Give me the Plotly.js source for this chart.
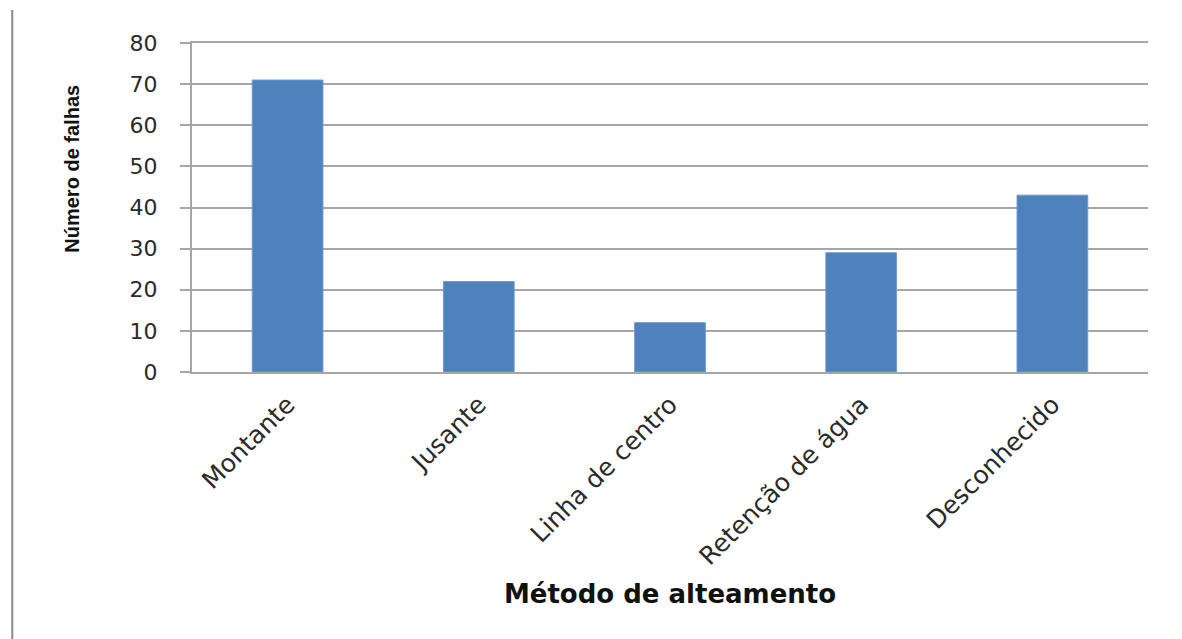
<!DOCTYPE html>
<html>
<head>
<meta charset="utf-8">
<script src="https://cdn.plot.ly/plotly-3.0.1.min.js"></script>
<style>
  html, body { margin: 0; padding: 0; background: #ffffff; }
  #chart { width: 1182px; height: 639px; }
</style>
</head>
<body>
<div id="chart"></div>
<script>
const categories = ["Montante", "Jusante", "Linha de centro", "Retenção de água", "Desconhecido"];
const failures = [71, 22, 12, 29, 43];
const yTickValues = [0, 10, 20, 30, 40, 50, 60, 70, 80];
const xTitle = "Método de alteamento";
const yTitle = "Número de falhas";

const trace = {
  type: "bar",
  x: categories,
  y: failures,
  marker: { color: "#4f81bd", line: { color: "#6f9bd1", width: 1 } },
  hoverinfo: "x+y"
};

const gridColor = "#a6a6a6";

const layout = {
  width: 1182,
  height: 639,
  margin: { l: 192, r: 34, t: 43, b: 267 },
  paper_bgcolor: "#ffffff",
  plot_bgcolor: "#ffffff",
  showlegend: false,
  bargap: 0.63,
  font: { family: "DejaVu Sans, sans-serif", color: "#222222" },
  xaxis: {
    type: "category",
    tickangle: -45,
    tickfont: { family: "DejaVu Sans, sans-serif", size: 25, color: "#2a2a2a" },
    showline: true,
    mirror: true,
    linecolor: gridColor,
    linewidth: 2,
    ticks: "",
    ticklabelstandoff: 6,
    showgrid: false,
    automargin: true,
    title: {
      text: xTitle,
      font: { family: "DejaVu Sans, sans-serif", size: 26, color: "#111111", weight: "bold" },
      standoff: 15
    }
  },
  yaxis: {
    range: [0, 80],
    tickvals: yTickValues,
    ticktext: yTickValues.map(String),
    tickfont: { family: "DejaVu Sans, sans-serif", size: 22, color: "#2a2a2a" },
    ticks: "outside",
    ticklen: 10,
    tickwidth: 2,
    tickcolor: gridColor,
    ticklabelstandoff: 18,
    showline: true,
    linecolor: gridColor,
    linewidth: 2,
    showgrid: true,
    gridcolor: gridColor,
    gridwidth: 2,
    zeroline: false,
    fixedrange: true
  },
  annotations: [
    {
      text: yTitle,
      xref: "paper", yref: "paper",
      x: -0.1255, y: 0.618,
      xanchor: "center", yanchor: "middle",
      textangle: -90,
      showarrow: false,
      font: { family: "Liberation Sans, sans-serif", size: 20, color: "#111111", weight: "bold" }
    }
  ],
  shapes: [
    {
      type: "line",
      xref: "paper", yref: "paper",
      x0: -0.188, x1: -0.188,
      y0: 1.1, y1: -0.82,
      line: { color: "#8a8a8a", width: 2 }
    }
  ]
};

Plotly.newPlot("chart", [trace], layout, { displayModeBar: false, staticPlot: true });
</script>
</body>
</html>
